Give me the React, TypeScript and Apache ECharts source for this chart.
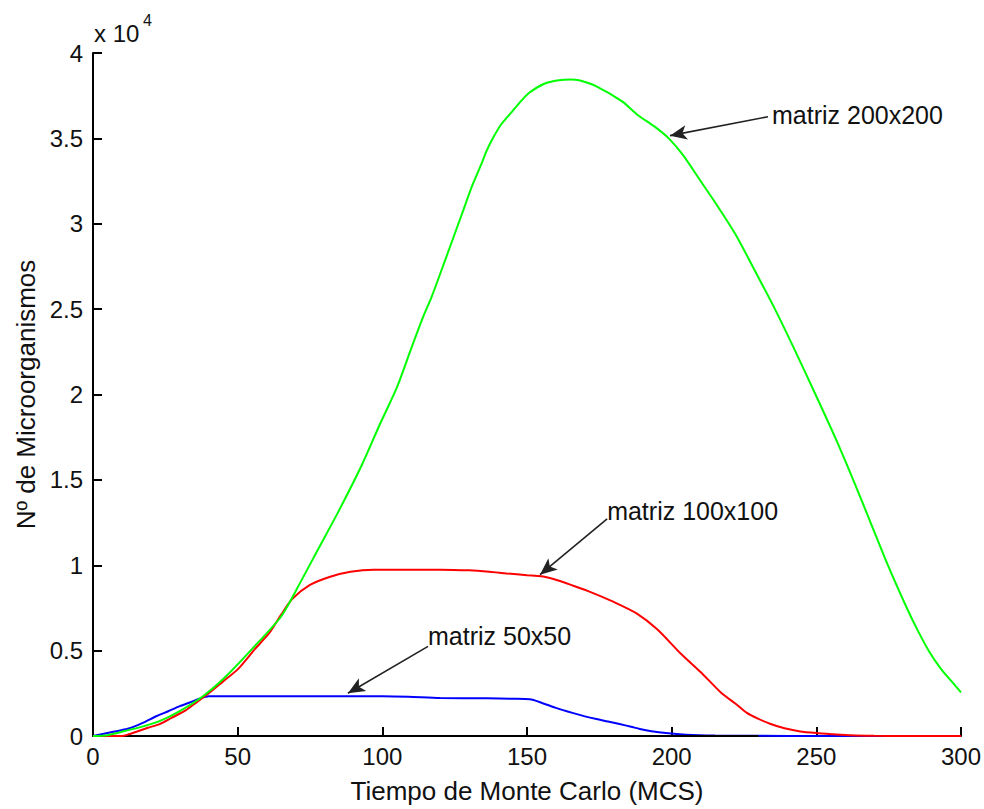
import React, { useEffect, useRef } from "react";
import * as echarts from "echarts";

// ---- Data ----
const xVerde = [0, 5, 11, 17, 23, 30, 38, 46, 55, 65, 72, 78, 85, 93, 99, 105, 110, 114, 117, 122, 128, 131, 134, 136, 138, 141, 145, 148, 151, 156, 161, 165, 168, 174, 183, 188, 194, 199, 204, 210, 216, 222, 228, 236, 242, 250, 257, 263, 269, 275, 281, 285, 289, 293, 297, 300];
const yVerde = [0, 50, 290, 550, 875, 1460, 2330, 3500, 5100, 7000, 9100, 11000, 13200, 15900, 18200, 20400, 22700, 24500, 25700, 28000, 30800, 32200, 33400, 34250, 34950, 35800, 36600, 37200, 37700, 38200, 38400, 38450, 38400, 38050, 37150, 36400, 35700, 35000, 34000, 32500, 31000, 29400, 27500, 24900, 22800, 19900, 17300, 14900, 12400, 9900, 7600, 6200, 4950, 3950, 3150, 2550];

const xRojo = [0, 10, 12, 15, 19, 23, 27, 32, 36, 40, 45, 50, 56, 61, 65, 69, 75, 82, 89, 97, 110, 120, 130, 137, 143, 150, 155, 160, 166, 172, 180, 188, 195, 203, 210, 217, 222, 226, 230, 234, 239, 244, 250, 256, 262, 270, 280, 290, 300];
const yRojo = [0, 0, 80, 250, 480, 700, 1050, 1500, 2000, 2500, 3200, 3900, 5100, 6050, 7100, 8050, 8850, 9330, 9620, 9740, 9740, 9740, 9700, 9620, 9520, 9420, 9360, 9150, 8800, 8430, 7850, 7170, 6250, 4850, 3750, 2550, 1900, 1350, 1000, 720, 450, 280, 170, 100, 40, 10, 0, 0, 0];

const xAzul = [0, 7, 12, 17, 22, 26, 30, 34, 37, 40, 60, 80, 100, 109, 120, 136, 145, 151, 155, 160, 166, 170, 174, 178, 182, 186, 189, 193, 198, 205, 215, 230, 250, 277];
const yAzul = [0, 250, 420, 750, 1170, 1450, 1750, 2000, 2200, 2330, 2330, 2330, 2330, 2300, 2220, 2210, 2180, 2150, 1950, 1650, 1340, 1150, 990, 850, 700, 540, 410, 280, 170, 80, 30, 10, 0, 0];

const xNegro = [0, 230];
const yNegro = [0, 0];

const xTicks = [0, 50, 100, 150, 200, 250, 300];
const yTicks = [0, 5000, 10000, 15000, 20000, 25000, 30000, 35000, 40000];

const annotTexts = ["matriz 200x200", "matriz 100x100", "matriz 50x50"];
const annotFrom = [[233.3, 36269], [177.7, 12712], [115.8, 5248]];
const annotTo = [[199.4, 35161], [154.5, 9446], [88.1, 2507]];
const annotOffset = [[4, -2], [0, -8], [0, -10]];

const FONT = "'Liberation Sans', Arial, Helvetica, sans-serif";

const pairs = (xs: number[], ys: number[]) => xs.map((x, i) => [x, ys[i]]);

export default function App() {
  const ref = useRef<HTMLDivElement>(null);
  useEffect(() => {
    if (!ref.current) return;
    const chart = echarts.init(ref.current, null, { renderer: "svg" });
    const lineSeries = (name: string, data: number[][], color: string, width = 2) => ({
      name,
      type: "line",
      data,
      showSymbol: false,
      symbol: "none",
      smooth: 0.25,
      lineStyle: { color, width },
      itemStyle: { color },
      silent: true,
    });
    chart.setOption({
      animation: false,
      backgroundColor: "#ffffff",
      grid: { left: 93, right: 23, top: 53, bottom: 69, containLabel: false },
      xAxis: {
        type: "value",
        min: xTicks[0],
        max: xTicks[xTicks.length - 1],
        interval: 50,
        name: "Tiempo de Monte Carlo (MCS)",
        nameLocation: "middle",
        nameGap: 42,
        nameTextStyle: { fontFamily: FONT, fontSize: 26, color: "#111" },
        axisLine: { show: true, onZero: false, lineStyle: { color: "#000", width: 2 } },
        axisTick: { show: true, inside: true, length: 9, lineStyle: { color: "#000", width: 2 } },
        axisLabel: { fontFamily: FONT, fontSize: 24, color: "#111", margin: 8 },
        splitLine: { show: false },
      },
      yAxis: {
        type: "value",
        min: yTicks[0],
        max: yTicks[yTicks.length - 1],
        interval: 5000,
        name: "Nº de Microorganismos",
        nameLocation: "middle",
        nameGap: 53,
        nameRotate: 90,
        nameTextStyle: { fontFamily: FONT, fontSize: 26, color: "#111" },
        axisLine: { show: true, onZero: false, lineStyle: { color: "#000", width: 2 } },
        axisTick: { show: true, inside: true, length: 9, lineStyle: { color: "#000", width: 2 } },
        axisLabel: {
          fontFamily: FONT,
          fontSize: 24,
          color: "#111",
          margin: 10,
          formatter: (v: number) => String(v / 10000),
        },
        splitLine: { show: false },
      },
      series: [
        lineSeries("matriz 50x50", pairs(xAzul, yAzul), "#0000ff"),
        { ...lineSeries("negro", pairs(xNegro, yNegro), "#000000"), smooth: false },
        lineSeries("matriz 100x100", pairs(xRojo, yRojo), "#ff0000"),
        {
          ...lineSeries("matriz 200x200", pairs(xVerde, yVerde), "#00ff00"),
          markLine: {
            silent: true,
            symbol: ["none", "arrow"],
            symbolSize: [11, 17],
            label: { show: false },
            lineStyle: { color: "#222", width: 1.6, type: "solid" },
            data: annotFrom.map((f, i) => [
              { coord: f, symbol: "none" },
              { coord: annotTo[i], symbol: "arrow" },
            ]),
          },
        },
      ],
    });

    const graphics: any[] = [
      {
        type: "text",
        left: 94,
        top: 21,
        style: { text: "x 10", font: `24px ${FONT}`, fill: "#111" },
      },
      {
        type: "text",
        left: 143,
        top: 12,
        style: { text: "4", font: `16px ${FONT}`, fill: "#111" },
      },
    ];
    annotTexts.forEach((t, i) => {
      const p = chart.convertToPixel({ gridIndex: 0 }, annotFrom[i]) as number[];
      graphics.push({
        type: "text",
        x: p[0] + annotOffset[i][0],
        y: p[1] + annotOffset[i][1],
        style: {
          text: t,
          font: `25px ${FONT}`,
          fill: "#111",
          textAlign: "left",
          textVerticalAlign: "middle",
        },
      });
    });
    chart.setOption({ graphic: graphics });

    return () => chart.dispose();
  }, []);
  return (
    <div
      ref={ref}
      style={{ position: "absolute", left: 0, top: 0, width: 984, height: 809 }}
    />
  );
}
